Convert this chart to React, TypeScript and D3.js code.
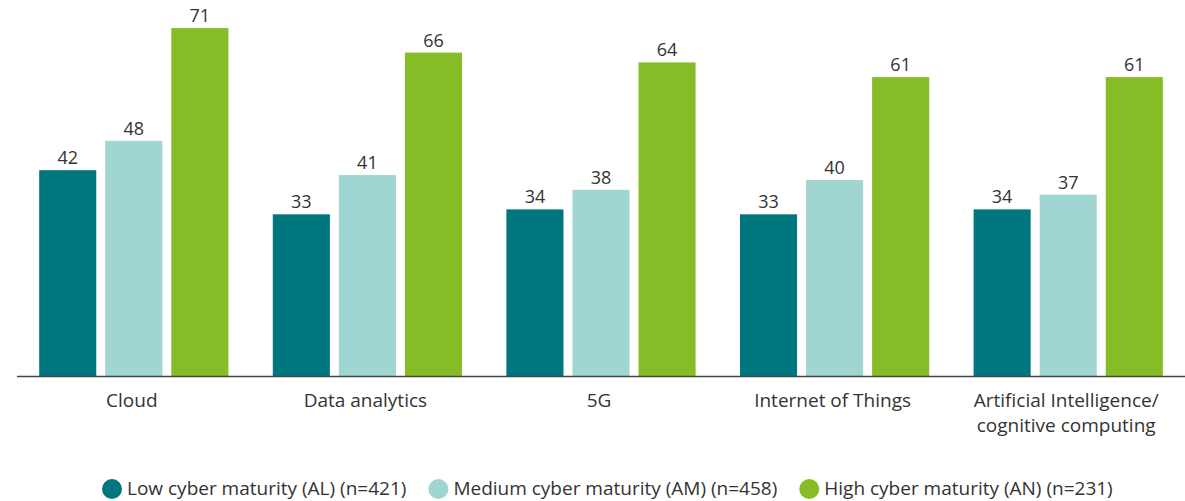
import * as d3 from "d3";
import { useEffect, useRef } from "react";

const categories = [
  ["Cloud"],
  ["Data analytics"],
  ["5G"],
  ["Internet of Things"],
  ["Artificial Intelligence/", "cognitive computing"],
];
const seriesNames = [
  "Low cyber maturity (AL) (n=421)",
  "Medium cyber maturity (AM) (n=458)",
  "High cyber maturity (AN) (n=231)",
];
const lowValues = [42, 33, 34, 33, 34];
const mediumValues = [48, 41, 38, 40, 37];
const highValues = [71, 66, 64, 61, 61];
const colors = ["#00767e", "#a0d5d1", "#86bc25"];

export default function App() {
  const svgRef = useRef<SVGSVGElement | null>(null);
  const width = 1185;
  const height = 501;

  useEffect(() => {
    const svg = d3.select(svgRef.current);
    svg.selectAll("*").remove();
    const font = "'Open Sans', sans-serif";
    const series = [lowValues, mediumValues, highValues];
    const keys = categories.map((c) => c.join(" "));

    const x0 = d3.scaleBand().domain(keys).range([17, 1185]).paddingInner(0.19).paddingOuter(0.095);
    const x1 = d3
      .scaleBand()
      .domain(seriesNames)
      .range([0, x0.bandwidth()])
      .paddingInner(0.136)
      .paddingOuter(0);
    const y = d3.scaleLinear().domain([0, 75]).range([376, 8.5]);

    const groups = svg
      .append("g")
      .selectAll("g")
      .data(keys)
      .join("g")
      .attr("transform", (d) => `translate(${x0(d)},0)`);

    groups
      .selectAll("rect")
      .data((_, i) => series.map((s, j) => ({ name: seriesNames[j], v: s[i], j })))
      .join("rect")
      .attr("x", (d) => x1(d.name)!)
      .attr("width", x1.bandwidth())
      .attr("y", (d) => y(d.v))
      .attr("height", (d) => y(0) - y(d.v))
      .attr("fill", (d) => colors[d.j]);

    groups
      .selectAll("text.val")
      .data((_, i) => series.map((s, j) => ({ name: seriesNames[j], v: s[i], j })))
      .join("text")
      .attr("class", "val")
      .attr("x", (d) => x1(d.name)! + x1.bandwidth() / 2)
      .attr("y", (d) => y(d.v) - 6)
      .attr("text-anchor", "middle")
      .attr("font-family", font)
      .attr("font-size", 18)
      .attr("fill", "#333")
      .text((d) => d.v);

    svg
      .append("line")
      .attr("x1", 17)
      .attr("x2", 1185)
      .attr("y1", y(0) + 0.5)
      .attr("y2", y(0) + 0.5)
      .attr("stroke", "#444")
      .attr("stroke-width", 1.3);

    groups.each(function (_, i) {
      const t = d3
        .select(this)
        .append("text")
        .attr("text-anchor", "middle")
        .attr("font-family", font)
        .attr("font-size", 19)
        .attr("fill", "#333");
      categories[i].forEach((line, k) => {
        t.append("tspan")
          .attr("x", x0.bandwidth() / 2 - 2)
          .attr("y", 407 + k * 24.5)
          .text(line);
      });
    });

    // legend
    const legend = svg.append("g");
    const items = legend
      .selectAll("g")
      .data(seriesNames)
      .join("g");
    items
      .append("circle")
      .attr("r", 10)
      .attr("cx", 10)
      .attr("cy", 489)
      .attr("fill", (_, i) => colors[i]);
    items
      .append("text")
      .attr("x", 25)
      .attr("y", 495)
      .attr("font-family", font)
      .attr("font-size", 19)
      .attr("fill", "#333")
      .text((d) => d);
    const widths: number[] = [];
    items.each(function () {
      widths.push(25 + (d3.select(this).select("text").node() as SVGTextElement).getComputedTextLength());
    });
    const gap = 22;
    let cx = 102;
    items.attr("transform", (_, i) => {
      const tx = cx;
      cx += widths[i] + gap;
      return `translate(${tx},0)`;
    });
  }, []);

  return (
    <div style={{ position: "absolute", left: 0, top: 0 }}>
      <svg ref={svgRef} width={width} height={height} style={{ display: "block" }}></svg>
    </div>
  );
}
